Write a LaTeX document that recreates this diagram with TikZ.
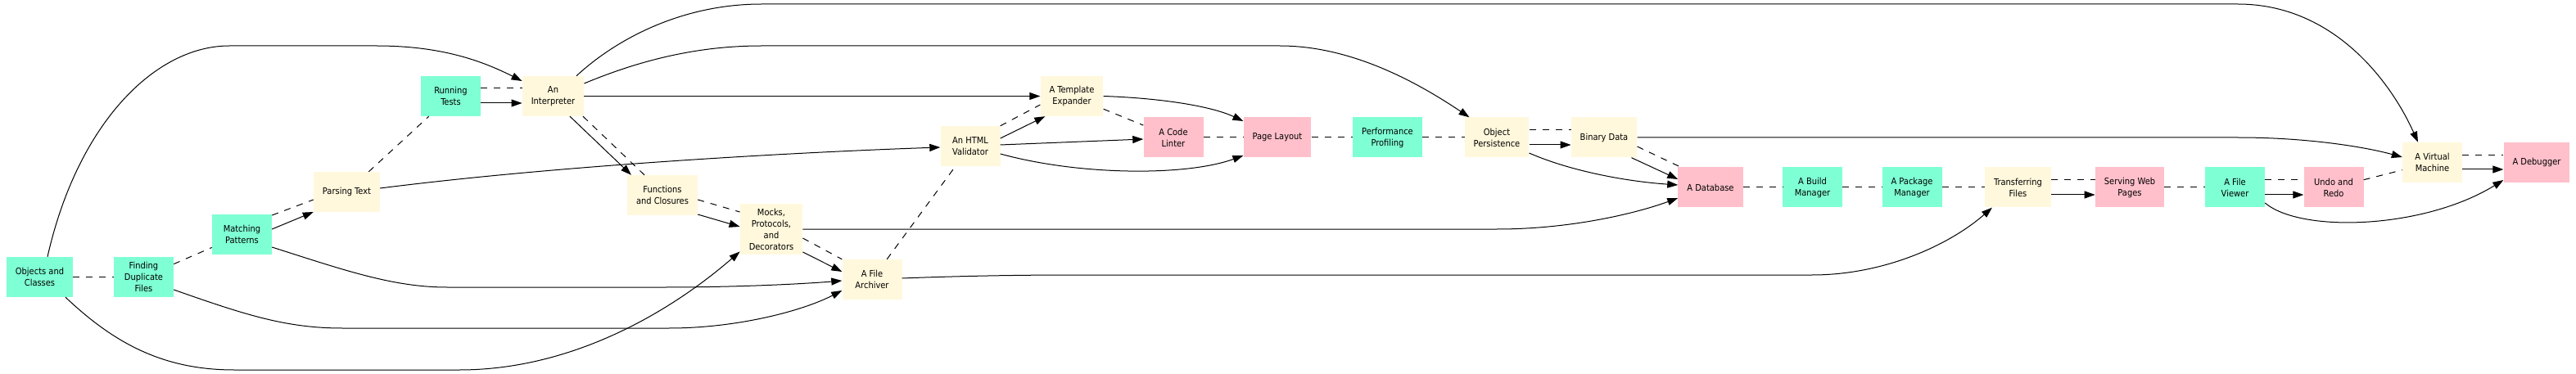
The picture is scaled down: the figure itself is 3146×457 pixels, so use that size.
\documentclass[tikz,border=0pt]{standalone}
\usepackage{fontspec}
\setmainfont{DejaVu Sans Condensed}
\usepackage{tikz}
\usetikzlibrary{positioning}
\usetikzlibrary{arrows.meta}
\definecolor{aquamarine}{HTML}{7FFFD4}
\definecolor{cornsilk}{HTML}{FFF8DC}
\definecolor{rosepink}{HTML}{FFC0CB}

\begin{document}
\begin{tikzpicture}[x=1pt,y=-1pt,
  >={Triangle[length=13pt,width=9pt]},
  box/.style={align=center,font=\fontsize{11}{14}\selectfont,inner xsep=11pt,inner ysep=6pt,
    minimum width=73pt,minimum height=49pt},
  aqua/.style={box,fill=aquamarine},
  silk/.style={box,fill=cornsilk},
  rose/.style={box,fill=rosepink},
  dep/.style={->,line width=1pt},
  seq/.style={line width=1pt,dash pattern=on 8pt off 8pt}]
  \useasboundingbox (0,0) rectangle (3146,457);
  % chapters
  \node[aqua] (obj)      at (48.5,338.5) {Objects and\\Classes};
  \node[aqua] (dup)      at (175.5,338.5) {Finding\\Duplicate\\Files};
  \node[aqua] (match)    at (295.5,286.5) {Matching\\Patterns};
  \node[silk] (parse)    at (423.5,234.5) {Parsing Text};
  \node[aqua] (tests)    at (550.5,117.5) {Running\\Tests};
  \node[silk] (interp)   at (675.5,117.5) {An\\Interpreter};
  \node[silk] (func)     at (809,238.5) {Functions\\and Closures};
  \node[silk] (mocks)    at (942,280) {Mocks,\\Protocols,\\and\\Decorators};
  \node[silk] (archiver) at (1065,341.5) {A File\\Archiver};
  \node[silk] (html)     at (1185,178.5) {An HTML\\Validator};
  \node[silk] (template) at (1309,117.5) {A Template\\Expander};
  \node[rose] (linter)   at (1433,168) {A Code\\Linter};
  \node[rose] (layout)   at (1560,168) {Page Layout};
  \node[aqua] (perf)     at (1694.5,168) {Performance\\Profiling};
  \node[silk] (persist)  at (1828,168) {Object\\Persistence};
  \node[silk] (binary)   at (1959,168) {Binary Data};
  \node[rose] (db)       at (2089,229) {A Database};
  \node[aqua] (build)    at (2213.5,229) {A Build\\Manager};
  \node[aqua] (package)  at (2335,229) {A Package\\Manager};
  \node[silk] (transfer) at (2464.5,229) {Transferring\\Files};
  \node[rose] (serve)    at (2601,229) {Serving Web\\Pages};
  \node[aqua] (viewer)   at (2729.5,229) {A File\\Viewer};
  \node[rose] (undo)     at (2850,229) {Undo and\\Redo};
  \node[silk] (vm)       at (2970.5,198.5) {A Virtual\\Machine};
  \node[rose] (debug)    at (3098,198.5) {A Debugger};

  % reading order
  \draw[seq] (obj) -- (dup);
  \draw[seq] (dup) -- (match);
  \draw[seq] ([yshift=23.5pt]match.east) -- ([yshift=-9.5pt]parse.west);
  \draw[seq] (parse) -- (tests);
  \draw[seq] ([yshift=9.5pt]tests.east) -- ([yshift=9.5pt]interp.west);
  \draw[seq] ([xshift=36.5pt]interp.south) -- ([xshift=-22pt]func.north);
  \draw[seq] ([yshift=-5.5pt]func.east) -- ([yshift=21pt]mocks.west);
  \draw[seq] ([yshift=-11pt]mocks.east) -- (archiver.north west);
  \draw[seq] (archiver) -- (html);
  \draw[seq] (html.north east) -- ([yshift=-10.5pt]template.west);
  \draw[seq] (template) -- (linter);
  \draw[seq] (linter) -- (layout);
  \draw[seq] (layout) -- (perf);
  \draw[seq] (perf) -- (persist);
  \draw[seq] ([yshift=9pt]persist.east) -- ([yshift=9pt]binary.west);
  \draw[seq] ([yshift=-11pt]binary.east) -- ([xshift=3.5pt]db.north west);
  \draw[seq] (db) -- (build);
  \draw[seq] (build) -- (package);
  \draw[seq] (package) -- (transfer);
  \draw[seq] ([yshift=9pt]transfer.east) -- ([yshift=9pt]serve.west);
  \draw[seq] (serve) -- (viewer);
  \draw[seq] ([yshift=9pt]viewer.east) -- ([yshift=9pt]undo.west);
  \draw[seq] (undo) -- (vm);
  \draw[seq] ([yshift=8.5pt]vm.east) -- ([yshift=8.5pt]debug.west);

  % dependencies
  \draw[dep] ([xshift=9.5pt]obj.north) .. controls (95,150) and (190,56) .. (280,56) -- (460,56)
    .. controls (540,56) and (590,75) .. ([yshift=18.5pt]interp.west);
  \draw[dep] ([yshift=-8.5pt]tests.east) -- ([yshift=-8.5pt]interp.west);
  \draw[dep] ([yshift=6.5pt]match.east) -- ([yshift=-24.5pt]parse.west);
  \draw[dep] ([yshift=4.5pt]parse.east) .. controls (700,200) and (1000,185) .. ([yshift=-1.5pt]html.west);
  \draw[dep] ([xshift=20.5pt]interp.south) -- ([xshift=-38pt]func.north);
  \draw[dep] (interp.east) -- (template.west);
  \draw[dep] ([yshift=15.5pt]interp.east) .. controls (790,70) and (860,56) .. (930,56) -- (1563,56)
    .. controls (1650,56) and (1730,100) .. ([xshift=6pt]persist.north west);
  \draw[dep] ([xshift=-9.5pt]interp.north east) .. controls (750,50) and (830,5) .. (930,5) -- (2733,5)
    .. controls (2850,5) and (2920,100) .. ([xshift=-17.5pt]vm.north);
  \draw[dep] ([yshift=-23.5pt]func.east) -- ([yshift=3pt]mocks.west);
  \draw[dep] ([yshift=-15.5pt]match.east) .. controls (420,330) and (480,351) .. (546,351) -- (812,351)
    .. controls (900,351) and (980,347) .. ([yshift=-1.5pt]archiver.west);
  \draw[dep] ([yshift=-15.5pt]dup.east) .. controls (300,385) and (350,401) .. (418,401) -- (817,401)
    .. controls (900,401) and (980,380) .. ([yshift=-13.5pt]archiver.west);
  \draw[dep] ([xshift=31.5pt]obj.south) .. controls (140,420) and (200,452) .. (286,452) -- (561,452)
    .. controls (700,452) and (820,380) .. ([yshift=4pt]mocks.south west);
  \draw[dep] ([yshift=-28pt]mocks.east) -- ([yshift=9.5pt]archiver.west);
  \draw[dep] (mocks.east) -- (1828,280) .. controls (1920,280) and (2000,260) .. ([yshift=-13pt]db.west);
  \draw[dep] ([yshift=1.5pt]archiver.east) .. controls (1180,337) and (1250,336) .. (1312,336) -- (2213,336)
    .. controls (2300,336) and (2380,300) .. ([xshift=9pt]transfer.south west);
  \draw[dep] ([yshift=9.5pt]html.east) -- ([xshift=6pt]template.south west);
  \draw[dep] ([yshift=1.5pt]html.east) -- ([yshift=-2pt]linter.west);
  \draw[dep] ([yshift=-9.5pt]html.east) .. controls (1320,215) and (1450,215) .. ([yshift=-22pt]layout.west);
  \draw[dep] (template.east) .. controls (1420,120) and (1480,130) .. ([yshift=20pt]layout.west);
  \draw[dep] ([yshift=-9pt]persist.east) -- ([yshift=-9pt]binary.west);
  \draw[dep] ([yshift=-19pt]persist.east) .. controls (1920,210) and (1990,222) .. ([yshift=3pt]db.west);
  \draw[dep] ([xshift=-7pt]binary.south east) -- ([yshift=10pt]db.west);
  \draw[dep] (binary.east) -- (2733,168) .. controls (2820,168) and (2890,180) .. ([yshift=6.5pt]vm.west);
  \draw[dep] ([yshift=-9pt]transfer.east) -- ([yshift=-9pt]serve.west);
  \draw[dep] ([yshift=-9pt]viewer.east) -- ([yshift=-9pt]undo.west);
  \draw[dep] ([yshift=-19pt]viewer.east) .. controls (2810,285) and (2960,280) .. ([yshift=-21.5pt]debug.west);
  \draw[dep] ([yshift=-8.5pt]vm.east) -- ([yshift=-8.5pt]debug.west);
\end{tikzpicture}
\end{document}
